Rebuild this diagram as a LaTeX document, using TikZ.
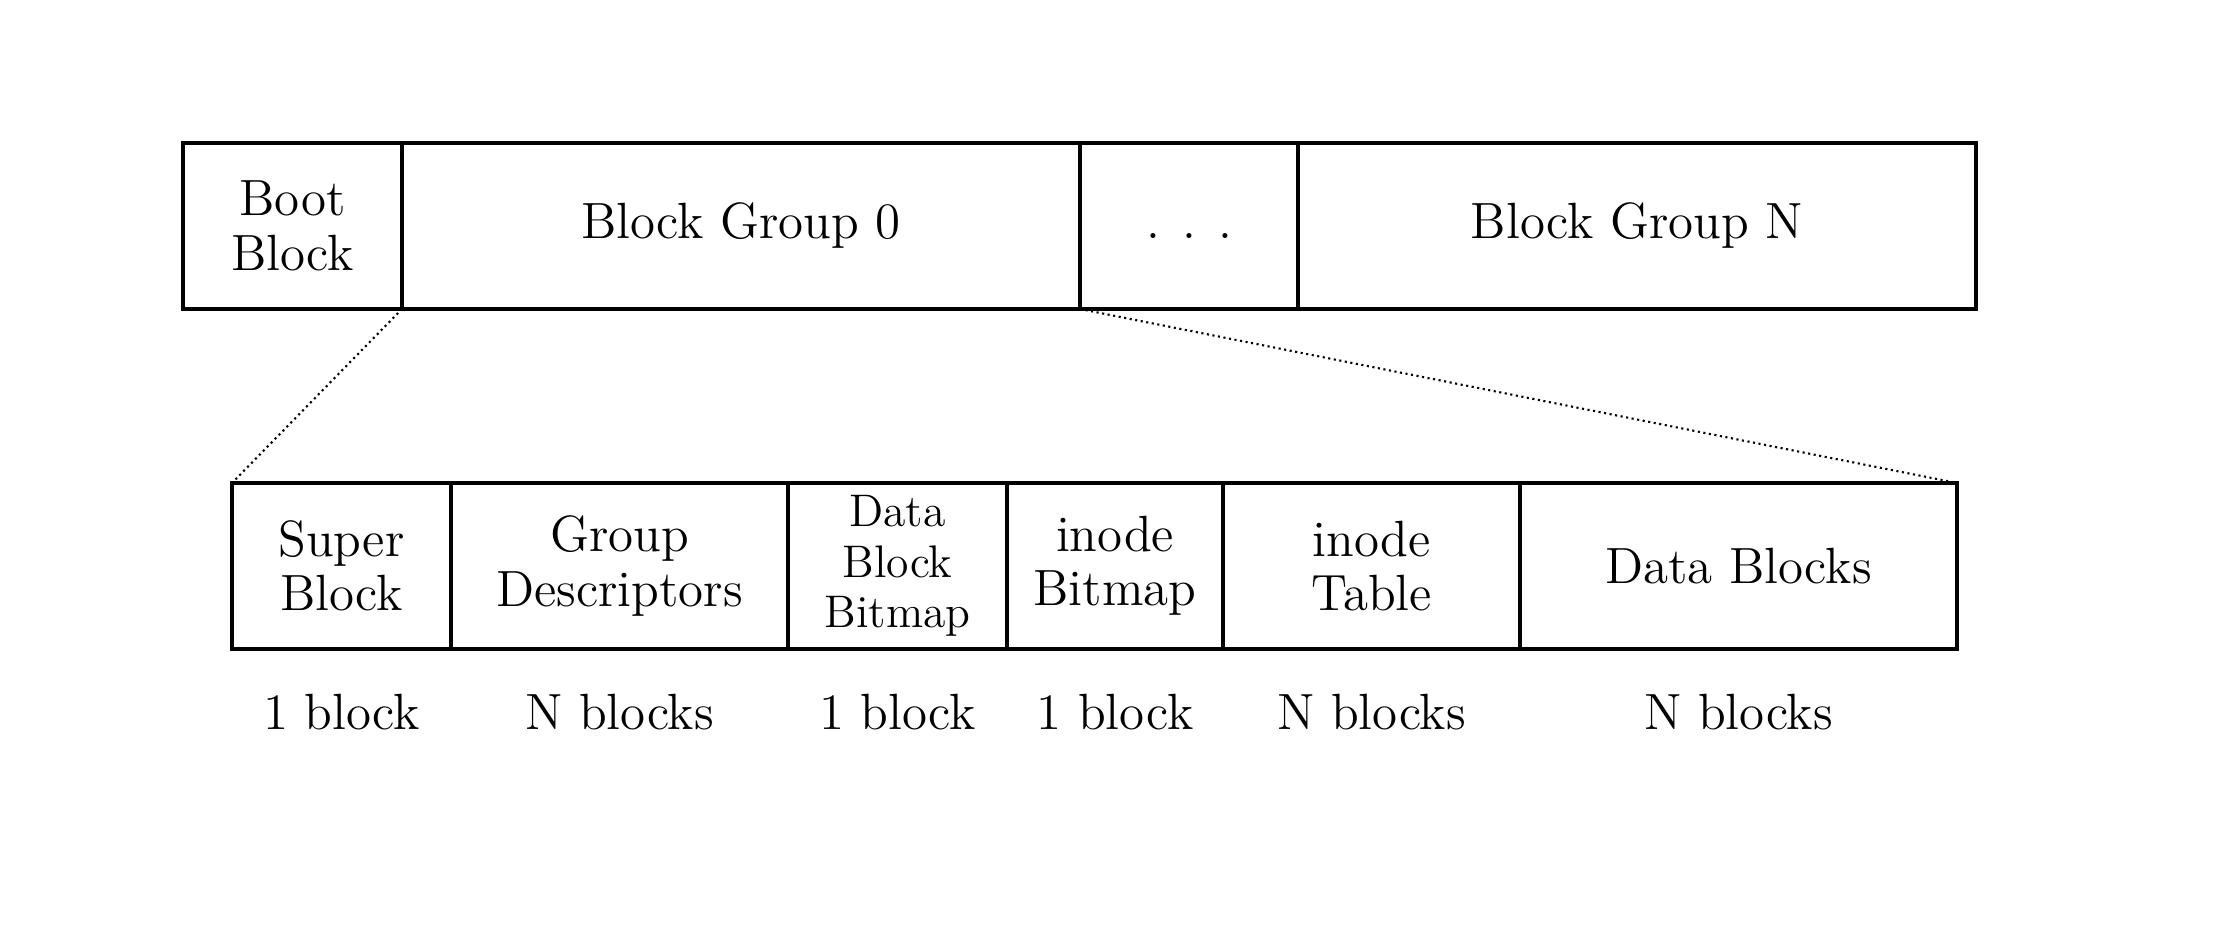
\documentclass[tikz,border=0pt]{standalone}
\usetikzlibrary{positioning}

\begin{document}
\begin{tikzpicture}
	\tikzstyle{every node}=[font=\fontsize{14.5}{15.5}\selectfont]
	\tikzstyle{blk}=[draw, line width=1pt, outer sep=0pt, inner sep=0pt,
	minimum height=1.66cm, align=center]
	\tikzstyle{cnt}=[inner sep=0pt, outer sep=0pt]
	\useasboundingbox (0,0) rectangle (22.32,9.44);

	% disk layout
	\node[blk, minimum width=2.19cm, anchor=north west] (boot) at (1.83,8.01) {Boot\\Block};
	\node[blk, minimum width=6.78cm, right=0pt of boot] (bg0) {Block Group 0};
	\node[blk, minimum width=2.18cm, right=0pt of bg0] (dots) {. . .\vphantom{Bp}};
	\node[blk, minimum width=6.78cm, right=0pt of dots] (bgn) {Block Group N};

	% one block group, expanded
	\node[blk, minimum width=2.19cm, anchor=north west] (sb) at (2.32,4.61) {Super\\Block};
	\node[blk, minimum width=3.37cm, right=0pt of sb] (gd) {Group\\Descriptors};
	\node[blk, minimum width=2.19cm, right=0pt of gd,
	font=\fontsize{13}{14.4}\selectfont] (dbb) {Data\\Block\\Bitmap};
	\node[blk, minimum width=2.16cm, right=0pt of dbb] (ib) {inode\\Bitmap};
	\node[blk, minimum width=2.97cm, right=0pt of ib] (it) {inode\\Table};
	\node[blk, minimum width=4.37cm, right=0pt of it] (db) {Data Blocks};

	% sizes
	\node[cnt, below=0.45cm of sb] (sbn) {1 block};
	\node[cnt, below=0.45cm of gd] (gdn) {N blocks};
	\node[cnt, below=0.45cm of dbb] (dbbn) {1 block};
	\node[cnt, below=0.45cm of ib] (ibn) {1 block};
	\node[cnt, below=0.45cm of it] (itn) {N blocks};
	\node[cnt, below=0.45cm of db] (dbn) {N blocks};

	\draw[densely dotted, line width=0.6pt] (bg0.south west) -- (sb.north west);
	\draw[densely dotted, line width=0.6pt] (bg0.south east) -- (db.north east);
\end{tikzpicture}
\end{document}
